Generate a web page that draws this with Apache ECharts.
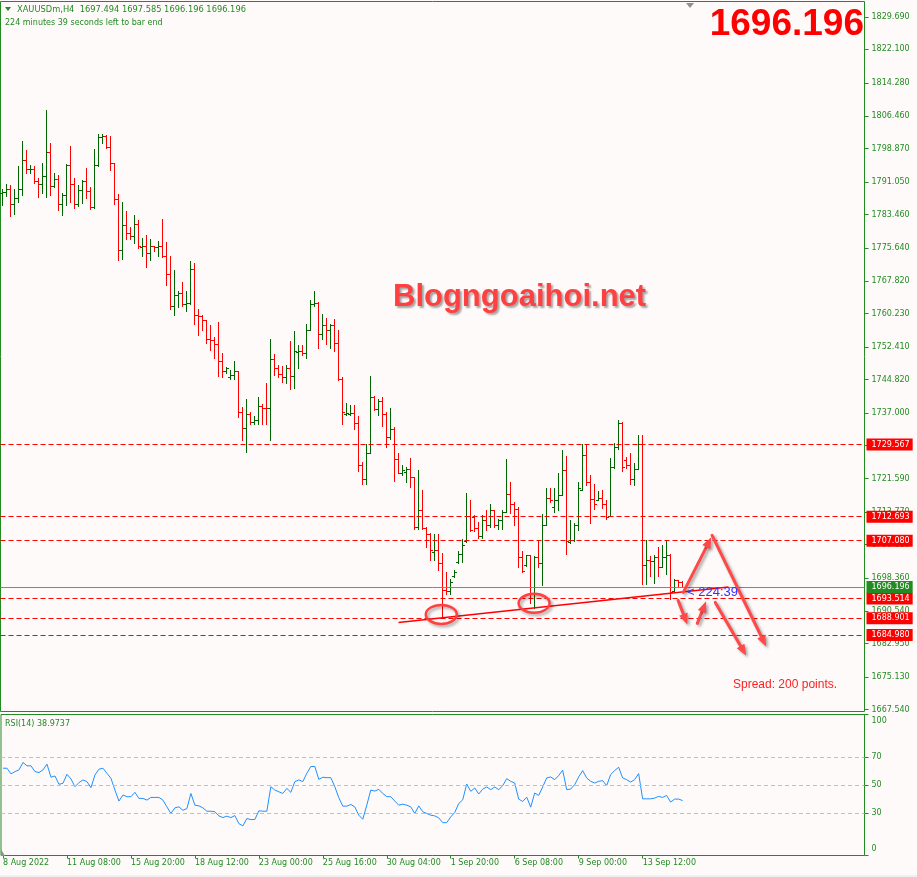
<!DOCTYPE html>
<html><head><meta charset="utf-8">
<script src="https://cdn.jsdelivr.net/npm/echarts@6/dist/echarts.min.js"></script>
<style>html,body{margin:0;padding:0;background:#fffafa;}#c{width:917px;height:877px;}</style>
</head><body><div id="c"></div>
<script>
// ---- data ----
const timeLabels = ['8 Aug 2022','11 Aug 08:00','15 Aug 20:00','18 Aug 12:00','23 Aug 00:00','25 Aug 16:00','30 Aug 04:00','1 Sep 20:00','6 Sep 08:00','9 Sep 00:00','13 Sep 12:00'];
const timeTickIdx = [0,16,32,48,64,80,96,112,128,144,160];
const open = [
1788.4,1788.6,1789.3,1785.8,1787.2,1789.5,1796.3,1794.0,1794.2,1791.3,
1790.5,1792.4,1798.0,1790.2,1791.7,1785.8,1788.1,1795.0,1790.5,1785.8,
1789.2,1791.3,1788.9,1785.2,1795.0,1801.6,1801.9,1799.2,1795.5,1787.0,
1775.2,1780.9,1779.1,1778.5,1781.3,1775.9,1776.1,1774.4,1776.0,1775.8,
1776.0,1773.7,1769.5,1762.1,1764.5,1765.1,1762.4,1762.8,1770.6,1759.8,
1759.6,1758.7,1754.3,1754.0,1753.1,1749.1,1746.7,1745.4,1745.8,1746.8,
1737.1,1733.4,1736.8,1734.9,1735.3,1738.5,1738.2,1738.1,1749.7,1747.4,
1746.0,1745.4,1747.6,1745.6,1751.2,1751.5,1750.9,1756.5,1762.4,1762.8,
1755.4,1757.5,1756.5,1757.5,1753.4,1745.0,1736.8,1736.7,1737.0,1734.7,
1724.7,1721.6,1727.7,1740.6,1737.8,1739.7,1736.8,1731.4,1733.2,1726.1,
1722.9,1723.2,1723.8,1722.0,1710.3,1714.2,1710.1,1708.7,1704.4,1705.0,
1701.9,1695.6,1695.4,1698.8,1702.1,1703.9,1706.9,1712.8,1712.6,1710.1,
1708.1,1712.0,1710.7,1714.2,1710.7,1712.0,1713.9,1717.9,1715.7,1714.6,
1703.2,1701.3,1703.6,1694.6,1703.2,1701.8,1710.7,1717.1,1714.9,1716.7,
1717.7,1723.7,1706.8,1707.3,1710.7,1719.0,1727.2,1720.8,1716.9,1716.7,
1717.1,1715.6,1712.8,1724.3,1729.0,1734.6,1725.9,1724.7,1721.6,1723.9,
1729.8,1701.3,1702.5,1702.2,1703.2,1700.9,1703.2,1703.8,1695.4,1697.8,
1697.494];
const high = [
1789.4,1790.7,1790.3,1789.4,1794.8,1800.6,1798.5,1795.0,1794.8,1791.9,
1795.5,1807.9,1800.2,1793.2,1792.7,1788.4,1795.2,1799.5,1791.9,1790.3,
1791.5,1794.3,1789.8,1798.8,1802.3,1802.3,1802.0,1801.9,1795.6,1788.2,
1786.4,1784.3,1780.6,1783.3,1782.1,1778.0,1778.6,1777.7,1776.1,1777.2,
1782.4,1777.0,1773.8,1770.4,1765.5,1767.7,1765.5,1772.5,1772.1,1761.3,
1759.9,1758.7,1757.5,1754.8,1758.3,1751.0,1747.8,1747.0,1749.1,1746.8,
1738.4,1740.2,1737.2,1736.2,1740.6,1739.0,1743.9,1754.2,1750.7,1748.2,
1747.9,1748.2,1753.8,1756.1,1753.0,1752.8,1757.9,1763.5,1765.5,1763.0,
1760.1,1759.1,1757.7,1758.9,1756.4,1745.4,1739.2,1738.8,1738.8,1736.3,
1725.5,1729.8,1745.6,1740.9,1740.3,1740.6,1737.2,1738.2,1733.7,1727.5,
1724.7,1724.3,1726.5,1722.0,1723.6,1719.0,1710.3,1708.9,1708.7,1708.7,
1704.2,1699.7,1698.2,1700.3,1704.6,1707.4,1718.2,1716.5,1713.0,1711.4,
1713.0,1714.2,1715.7,1714.3,1712.2,1714.3,1726.3,1720.8,1716.1,1715.0,
1704.6,1703.8,1703.8,1703.5,1707.3,1713.4,1719.3,1719.3,1719.3,1722.8,
1728.2,1726.8,1712.0,1711.1,1720.8,1729.6,1729.6,1722.5,1720.4,1718.7,
1718.9,1716.5,1726.5,1730.0,1735.3,1734.9,1726.7,1727.7,1725.3,1731.8,
1731.9,1707.3,1703.5,1703.8,1705.6,1706.1,1707.3,1703.9,1698.2,1697.9,
1697.585];
const low = [
1785.7,1787.8,1783.1,1783.6,1786.4,1788.1,1793.2,1793.2,1790.9,1787.6,
1788.5,1787.6,1788.0,1789.9,1784.5,1783.4,1785.7,1786.4,1785.0,1785.5,
1786.2,1787.4,1784.8,1785.0,1794.9,1800.2,1799.1,1793.9,1786.0,1772.8,
1773.1,1777.6,1777.8,1776.8,1775.7,1773.8,1771.2,1772.9,1774.9,1773.8,
1773.5,1767.0,1761.4,1759.8,1761.8,1762.0,1760.9,1762.6,1757.7,1755.3,
1756.3,1753.4,1751.8,1749.9,1745.6,1745.4,1746.3,1744.9,1744.9,1736.0,
1730.6,1727.8,1734.5,1734.3,1734.5,1734.5,1734.3,1730.7,1745.8,1745.4,
1744.2,1743.9,1742.5,1742.8,1747.5,1750.5,1749.9,1756.4,1762.0,1752.2,
1754.4,1753.2,1752.2,1751.5,1744.6,1734.3,1736.4,1736.6,1733.2,1723.4,
1720.4,1720.4,1727.7,1737.6,1736.4,1733.9,1729.0,1730.8,1721.1,1722.8,
1722.5,1720.7,1719.6,1709.7,1709.9,1709.9,1705.6,1702.5,1702.5,1700.3,
1689.0,1694.7,1694.7,1698.6,1701.9,1702.1,1706.8,1709.3,1709.3,1707.8,
1707.8,1709.6,1710.3,1710.3,1709.7,1709.7,1713.8,1713.6,1710.7,1700.9,
1699.7,1701.1,1692.5,1691.4,1700.9,1696.8,1710.7,1716.1,1713.8,1714.2,
1717.7,1703.9,1706.6,1706.9,1709.5,1718.9,1720.0,1711.3,1714.4,1716.5,
1714.8,1712.2,1712.8,1724.2,1728.6,1723.5,1724.2,1720.4,1720.0,1723.9,
1697.0,1697.0,1698.9,1697.1,1698.9,1700.9,1699.3,1693.5,1695.0,1696.2,
1696.196];
const close = [
1788.7,1789.3,1785.8,1787.2,1789.5,1796.3,1794.1,1794.2,1791.3,1790.5,
1792.4,1798.0,1790.2,1791.7,1785.8,1788.1,1795.0,1790.5,1785.8,1789.2,
1791.3,1788.9,1785.2,1795.0,1801.6,1801.9,1799.2,1795.5,1787.0,1775.2,
1780.9,1779.1,1778.5,1781.3,1776.0,1776.1,1774.4,1776.0,1775.8,1776.0,
1773.7,1769.5,1762.1,1764.5,1765.1,1762.4,1762.8,1770.6,1759.8,1759.6,
1758.7,1754.2,1754.0,1753.1,1749.1,1746.7,1747.5,1745.8,1746.8,1737.1,
1733.4,1736.8,1734.9,1735.3,1738.5,1738.2,1738.1,1749.7,1747.4,1746.0,
1745.4,1747.6,1745.6,1751.4,1751.5,1750.9,1756.5,1762.6,1762.8,1755.4,
1757.5,1756.5,1757.5,1753.4,1745.0,1737.1,1737.0,1737.0,1734.7,1724.7,
1721.6,1727.7,1740.6,1737.8,1739.7,1736.8,1731.4,1733.2,1726.1,1722.9,
1723.6,1723.8,1722.0,1710.3,1714.2,1710.1,1708.7,1704.8,1705.0,1701.9,
1695.6,1695.4,1697.4,1699.7,1703.9,1706.0,1712.8,1709.5,1710.1,1708.1,
1712.0,1710.7,1714.2,1710.7,1712.0,1713.9,1717.9,1715.7,1714.6,1703.2,
1699.9,1703.6,1694.6,1703.2,1701.8,1710.7,1717.1,1716.5,1716.7,1717.7,
1723.7,1707.1,1707.3,1710.7,1719.3,1727.2,1720.8,1716.9,1715.6,1717.1,
1715.6,1712.6,1724.3,1729.0,1734.6,1724.3,1724.7,1721.6,1723.9,1729.8,
1701.3,1702.5,1702.2,1703.2,1700.9,1703.2,1703.8,1695.0,1697.8,1697.4,
1696.196];
const rsi = [
61.9,61.9,57.9,59.5,60.7,66.0,63.6,63.6,59.5,58.8,
60.7,64.8,55.5,56.4,50.5,51.2,57.6,54.3,48.8,51.7,
53.6,52.4,48.1,57.1,61.2,61.9,58.3,54.8,46.4,38.6,
42.9,41.7,41.7,44.8,40.5,40.5,39.3,41.2,41.2,41.2,
39.3,34.5,29.8,33.8,34.5,32.1,33.3,44.0,35.7,35.2,
33.8,31.4,31.4,31.0,28.1,26.9,27.9,26.9,28.3,22.6,
21.0,26.2,25.5,25.5,31.7,31.4,31.4,48.8,46.4,45.2,
44.0,47.6,44.8,52.4,53.6,52.4,58.3,63.1,63.1,54.0,
55.5,55.2,55.2,48.8,41.0,35.0,35.0,36.2,34.5,28.6,
25.7,35.7,46.4,45.7,46.9,44.0,41.7,41.7,38.6,35.7,
36.4,35.7,34.5,29.8,35.2,31.0,29.8,28.6,28.1,26.7,
23.3,23.3,27.4,30.5,36.9,39.5,50.7,45.5,47.9,43.6,
47.1,48.6,46.7,48.6,46.7,49.5,54.5,52.6,51.4,40.0,
38.3,41.4,34.3,44.3,42.6,48.6,55.0,55.7,53.8,56.7,
60.5,46.7,47.1,50.2,55.7,60.2,55.0,52.6,51.4,52.6,
53.1,49.5,57.4,60.2,62.6,55.0,53.8,52.1,53.8,58.1,
40.2,40.2,40.2,40.7,41.9,41.2,42.6,37.9,40.0,40.0,
38.97];
const priceTicks = [1829.690,1822.100,1814.280,1806.460,1798.870,1791.050,1783.460,1775.640,1767.820,1760.230,1752.410,1744.820,1737.000,1729.410,1721.590,1713.770,1706.180,1698.360,1690.540,1682.950,1675.130,1667.540];
const rsiTicks = [0,30,50,70,100];
const rsiLevels = [30,50,70];
const levels = [1729.567,1712.693,1707.080,1693.514,1688.901,1684.980];
const lastPrice = 1696.196;
// annotations (bar index, price)
const trendLine = [[99.0,1687.9],[181.5,1696.2]];
const circles = [[109.7,1689.8],[132.9,1692.4]];
const arrows = [
  [[170.2,1694.96],[177.2,1707.85]],
  [[177.4,1708.32],[190.9,1682.31]],
  [[168.9,1693.09],[171.2,1687.47]],
  [[173.7,1687.70],[175.9,1692.86]],
  [[178.2,1692.62],[185.9,1680.20]]
];

// ---- chart ----
const GREEN = '#228b22', UP = '#006400', DOWN = '#ff0000', FONT = 'DejaVu Sans';
const chart = echarts.init(document.getElementById('c'), null, {renderer:'canvas'});

const bars = open.map((o,i)=>[i,o,close[i],low[i],high[i]]);

function renderBar(params, api){
  const i = api.value(0), o = api.value(1), c = api.value(2), l = api.value(3), h = api.value(4);
  const pO = api.coord([i,o]), pC = api.coord([i,c]), pL = api.coord([i,l]), pH = api.coord([i,h]);
  const col = c >= o ? UP : DOWN;
  const n = Math.floor(pO[0]);
  const xs = n + 0.5;
  const yo = Math.round(pO[1]) + 0.5, yc = Math.round(pC[1]) + 0.5;
  return {type:'group', children:[
    {type:'line', shape:{x1:xs, y1:Math.round(pH[1]), x2:xs, y2:Math.round(pL[1])+1}, style:{stroke:col, lineWidth:1}},
    {type:'line', shape:{x1:n-2, y1:yo, x2:n, y2:yo}, style:{stroke:col, lineWidth:1}},
    {type:'line', shape:{x1:n+1, y1:yc, x2:n+3, y2:yc}, style:{stroke:col, lineWidth:1}}
  ]};
}

const levelLabel = (bg, v) => ({show:true, position:'end', distance:2, formatter:()=>v.toFixed(3),
  backgroundColor:bg, color:'#ffffff', fontFamily:FONT, fontSize:8, padding:[2,3,2,5]});

const markData = levels.map(v=>({yAxis:v, lineStyle:{color:'#ff0000', type:[5,3], width:1}, label:levelLabel('#ff0000', v)}));
markData.push({yAxis:lastPrice, lineStyle:{color:'#778899', type:'solid', width:1}, label:levelLabel(GREEN, lastPrice)});
markData.push([{coord:trendLine[0]},{coord:trendLine[1]}]);

const option = {
  animation:false,
  backgroundColor:'#fffafa',
  grid:[
    {left:0.5, top:1.5, width:864, height:710, show:true, borderColor:GREEN, borderWidth:1},
    {left:0.5, top:714.5, width:864, height:141, show:true, borderColor:GREEN, borderWidth:1}
  ],
  xAxis:[
    {type:'value', gridIndex:0, min:-0.5, max:215.5, show:false, axisLine:{onZero:false}},
    {type:'value', gridIndex:1, min:-0.5, max:215.5,
      axisLine:{show:false, onZero:false}, splitLine:{show:false},
      axisTick:{show:true, customValues:timeTickIdx, length:3, lineStyle:{color:GREEN}},
      axisLabel:{customValues:timeTickIdx, formatter:(v)=>{const k=timeTickIdx.indexOf(Math.round(v)); return k>=0?timeLabels[k]:'';},
        align:'left', color:GREEN, fontFamily:FONT, fontSize:8, margin:3}}
  ],
  yAxis:[
    {type:'value', gridIndex:0, position:'right', min:1667.07, max:1833.32,
      axisLine:{show:false, onZero:false}, splitLine:{show:false},
      axisTick:{show:true, customValues:priceTicks, length:4, lineStyle:{color:GREEN}},
      axisLabel:{customValues:priceTicks, formatter:(v)=>Number(v).toFixed(3), color:GREEN, fontFamily:FONT, fontSize:8, margin:7}},
    {type:'value', gridIndex:1, position:'right', min:0, max:100,
      axisLine:{show:false, onZero:false}, splitLine:{show:false},
      axisTick:{show:true, customValues:rsiTicks, length:4, lineStyle:{color:GREEN}},
      axisLabel:{customValues:rsiTicks, color:GREEN, fontFamily:FONT, fontSize:8, margin:7,
        formatter:(v)=> v===100 ? '{t|100}' : (v===0 ? '{b|0}' : String(v)),
        rich:{t:{padding:[13,0,0,0], color:GREEN, fontFamily:FONT, fontSize:8}, b:{padding:[0,0,14,0], color:GREEN, fontFamily:FONT, fontSize:8}}}}
  ],
  series:[
    {type:'custom', name:'XAUUSDm', xAxisIndex:0, yAxisIndex:0, data:bars, encode:{x:0, y:[1,2,3,4]},
      renderItem:renderBar, clip:true, silent:true,
      markLine:{silent:true, symbol:['none','none'], precision:3, animation:false, emphasis:{disabled:true},
        label:{show:false}, lineStyle:{color:'#ff0000', type:'solid', width:1.5}, data:markData}},
    {type:'line', name:'RSI(14)', xAxisIndex:1, yAxisIndex:1, data:rsi.map((v,i)=>[i,v]), showSymbol:false, silent:true,
      lineStyle:{color:'#1e90ff', width:1},
      markLine:{silent:true, symbol:['none','none'], animation:false, label:{show:false}, emphasis:{disabled:true},
        lineStyle:{color:'#c0c0c0', type:[4,3], width:1}, data:rsiLevels.map(v=>({yAxis:v}))}}
  ]
};
chart.setOption(option);

// ---- annotations positioned through the axes ----
const toPx = (p) => chart.convertToPixel({xAxisIndex:0, yAxisIndex:0}, p);
const g = [];
const shadow = {shadowBlur:3, shadowColor:'rgba(0,0,0,0.35)', shadowOffsetX:2, shadowOffsetY:2};
circles.forEach(c=>{
  const p = toPx(c);
  g.push({type:'ellipse', z:100, shape:{cx:p[0], cy:p[1], rx:15.5, ry:9.5},
    style:Object.assign({fill:'none', stroke:'#ff4040', lineWidth:2.5}, shadow)});
});
arrows.forEach(a=>{
  const p1 = toPx(a[0]), p2 = toPx(a[1]);
  const dx = p2[0]-p1[0], dy = p2[1]-p1[1], L = Math.hypot(dx,dy);
  const ux = dx/L, uy = dy/L, hl = 11, hw = 4.5;
  const bx = p2[0]-ux*hl, by = p2[1]-uy*hl;
  g.push({type:'line', z:100, shape:{x1:p1[0], y1:p1[1], x2:bx, y2:by},
    style:Object.assign({stroke:'#ff4848', lineWidth:3, lineCap:'round'}, shadow)});
  g.push({type:'polygon', z:100, shape:{points:[[p2[0],p2[1]],[bx-uy*hw,by+ux*hw],[bx+uy*hw,by-ux*hw]]},
    style:Object.assign({fill:'#ff4848'}, shadow)});
});
g.push({type:'polygon', z:100, shape:{points:[[5,7],[11,7],[8,11]]}, style:{fill:GREEN}});
g.push({type:'text', z:100, x:17, y:10, style:{text:'XAUUSDm,H4  1697.494 1697.585 1696.196 1696.196', fill:GREEN, font:'8.3px "DejaVu Sans"', verticalAlign:'middle'}});
g.push({type:'text', z:100, x:5, y:23, style:{text:'224 minutes 39 seconds left to bar end', fill:GREEN, font:'8px "DejaVu Sans"', verticalAlign:'middle'}});
g.push({type:'text', z:100, x:864, y:25, style:{text:'1696.196', fill:'#ff0000', font:'bold 37px "Liberation Sans"', align:'right', verticalAlign:'middle'}});
g.push({type:'text', z:100, x:393, y:297, style:{text:'Blogngoaihoi.net', fill:'#ff4040', font:'bold 31px "Liberation Sans"', verticalAlign:'middle',
  textShadowColor:'rgba(0,0,0,0.35)', textShadowBlur:2, textShadowOffsetX:2, textShadowOffsetY:2}});
g.push({type:'text', z:100, x:687, y:592, style:{text:'< 224:39', fill:'#3333ff', font:'13px "Liberation Sans"', verticalAlign:'middle'}});
g.push({type:'text', z:100, x:733, y:685, style:{text:'Spread: 200 points.', fill:'#ff2020', font:'12px "Liberation Sans"', verticalAlign:'middle'}});
g.push({type:'text', z:100, x:5, y:724, style:{text:'RSI(14) 38.9737', fill:GREEN, font:'8px "DejaVu Sans"', verticalAlign:'middle'}});
g.push({type:'polygon', z:100, shape:{points:[[686,3],[694,3],[690,8]]}, style:{fill:'#909090'}});
g.push({type:'polygon', z:100, shape:{points:[[1,849],[1,856],[5,856]]}, style:{fill:'#909090'}});
g.push({type:'rect', z:100, shape:{x:0, y:875, width:917, height:2}, style:{fill:'#efefef'}});
chart.setOption({graphic:g});
</script></body></html>
